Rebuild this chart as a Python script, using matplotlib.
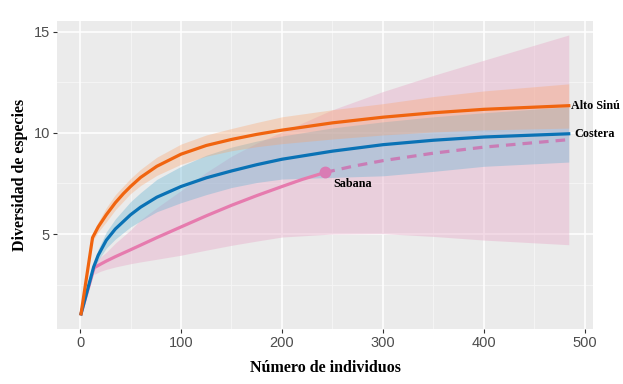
import numpy as np
import matplotlib
matplotlib.use("Agg")
import matplotlib.pyplot as plt

# ---------------- data ----------------
alto_x = [1, 12.4, 18, 26, 35, 43, 50, 60, 76, 100, 125, 150, 175, 200, 250, 300, 350, 400, 484]
alto_y = [1.05, 4.82, 5.35, 5.95, 6.55, 7.0, 7.35, 7.8, 8.35, 8.95, 9.38, 9.68, 9.93, 10.14, 10.5, 10.78, 11.0, 11.17, 11.35]
alto_rx = [12.4, 18, 26, 35, 50, 60, 76, 100, 125, 150, 175, 200, 250, 300, 350, 400, 484]
alto_lo = [4.65, 5.1, 5.6, 6.2, 7.0, 7.4, 7.9, 8.45, 8.85, 9.12, 9.32, 9.47, 9.7, 9.9, 10.05, 10.15, 10.24]
alto_hi = [5.0, 5.6, 6.3, 6.95, 7.75, 8.2, 8.8, 9.45, 9.9, 10.22, 10.52, 10.8, 11.15, 11.45, 11.8, 12.08, 12.43]

cost_x = [1, 13.5, 18, 26, 35, 50, 60, 76, 100, 125, 150, 175, 200, 250, 300, 350, 400, 484]
cost_y = [1.05, 3.37, 3.95, 4.69, 5.25, 5.95, 6.33, 6.82, 7.35, 7.78, 8.12, 8.43, 8.7, 9.1, 9.42, 9.64, 9.8, 9.96]
cost_rx = [13.5, 18, 26, 35, 50, 60, 76, 100, 125, 150, 175, 200, 250, 300, 350, 400, 484]
cost_lo = [3.25, 3.7, 4.3, 4.75, 5.35, 5.65, 6.1, 6.55, 6.95, 7.3, 7.55, 7.72, 7.8, 7.88, 8.1, 8.35, 8.56]
cost_hi = [3.5, 4.25, 5.1, 5.75, 6.6, 7.05, 7.7, 8.35, 8.9, 9.3, 9.6, 9.85, 10.25, 10.55, 10.8, 11.0, 11.3]

sab_x = [1, 14, 20, 26, 35, 50, 60, 76, 100, 125, 150, 175, 200, 220, 243]
sab_y = [1.05, 3.33, 3.5, 3.66, 3.88, 4.22, 4.45, 4.82, 5.35, 5.9, 6.42, 6.9, 7.35, 7.7, 8.05]
sab_ex = [243, 270, 300, 350, 400, 484]
sab_ey = [8.05, 8.35, 8.63, 9.0, 9.3, 9.67]
sab_rx = [14, 20, 26, 35, 50, 60, 76, 100, 125, 150, 175, 200, 250, 300, 350, 400, 484]
sab_lo = [3.0, 3.15, 3.25, 3.37, 3.53, 3.62, 3.75, 3.95, 4.2, 4.44, 4.65, 4.85, 5.0, 5.02, 4.88, 4.7, 4.47]
sab_hi = [3.55, 3.85, 4.1, 4.55, 5.2, 5.7, 6.3, 7.15, 8.05, 8.85, 9.5, 10.05, 11.15, 12.05, 12.85, 13.6, 14.85]
sab_obs = (243, 8.05)

x_ticks = [0, 100, 200, 300, 400, 500]
y_ticks = [5, 10, 15]
labels = ["Alto Sinú", "Costera", "Sabana"]

# ---------------- figure ----------------
fig = plt.figure(figsize=(6.23, 3.84), dpi=100)
ax = fig.add_axes([57/623, 55/384, (593-57)/623, (329-21)/384])
ax.set_facecolor("#EBEBEB")

ax.set_xlim(-22.8, 508)
ax.set_ylim(0.3, 15.54)

# grid
for v in [50, 150, 250, 350, 450]:
    ax.axvline(v, color="#F6F6F6", lw=0.6, zorder=0)
for v in [2.5, 7.5, 12.5]:
    ax.axhline(v, color="#F6F6F6", lw=0.6, zorder=0)
for v in x_ticks:
    ax.axvline(v, color="white", lw=1.1, zorder=0)
for v in y_ticks:
    ax.axhline(v, color="white", lw=1.1, zorder=0)

# ribbons
ax.fill_between(sab_rx, sab_lo, sab_hi, color="#E8AFCA", alpha=0.45, lw=0, zorder=1)
ax.fill_between(cost_rx, cost_lo, cost_hi, color="#61B1D2", alpha=0.36, lw=0, zorder=1)
ax.fill_between(alto_rx, alto_lo, alto_hi, color="#FCA064", alpha=0.32, lw=0, zorder=1)

# lines
ax.plot(sab_x, sab_y, color="#E67BAE", lw=2.3, zorder=3, solid_joinstyle="round")
ax.plot(sab_ex, sab_ey, color="#C97DB6", lw=2.3, ls=(0, (3, 2.2)), zorder=3)
ax.plot(cost_x, cost_y, color="#0A72B5", lw=2.3, zorder=4, solid_joinstyle="round")
ax.plot(alto_x, alto_y, color="#F0640F", lw=2.3, zorder=5, solid_joinstyle="round")
ax.plot([sab_obs[0]], [sab_obs[1]], "o", color="#D97CB4", ms=7.5, zorder=6)

# labels at ends
serif = ["Liberation Serif", "DejaVu Serif"]
ax.text(486, alto_y[-1], labels[0], fontsize=8.7, fontweight="bold", family=serif,
        va="center", ha="left", clip_on=False, zorder=7)
ax.text(490, cost_y[-1], labels[1], fontsize=8.7, fontweight="bold", family=serif,
        va="center", ha="left", clip_on=False, zorder=7)
ax.text(250.5, 7.48, labels[2], fontsize=8.7, fontweight="bold", family=serif,
        va="center", ha="left", zorder=7)

# ticks
ax.set_xticks(x_ticks)
ax.set_yticks(y_ticks)
ax.tick_params(axis="both", length=3, width=0.8, color="#333333",
               labelcolor="#4D4D4D", labelsize=10.5, pad=2)
for lab in ax.get_xticklabels() + ax.get_yticklabels():
    lab.set_family(["Liberation Sans", "DejaVu Sans"])
for s in ax.spines.values():
    s.set_visible(False)

ax.set_xlabel("Número de individuos", fontsize=11.5, fontweight="bold",
              family=serif, labelpad=7)
ax.set_ylabel("Diversidad de especies", fontsize=11.5, fontweight="bold",
              family=serif, labelpad=4)

fig.savefig("out.png", dpi=100, facecolor="white")
